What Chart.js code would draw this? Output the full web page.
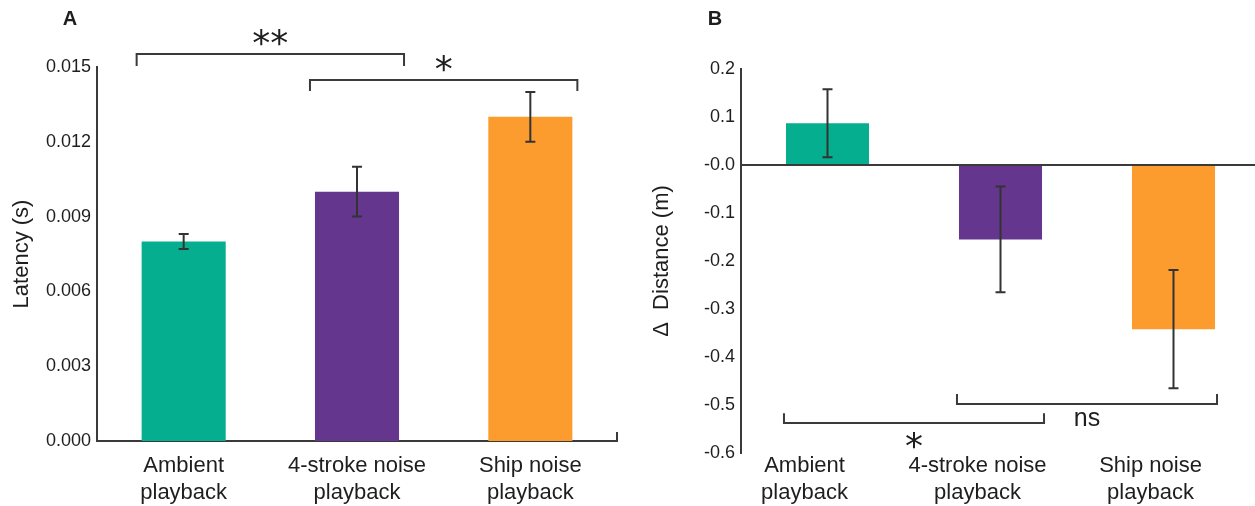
<!DOCTYPE html>
<html>
<head>
<meta charset="utf-8">
<script src="https://cdn.jsdelivr.net/npm/chart.js@4/dist/chart.umd.min.js"></script>
<style>
  body { margin: 0; background: #fff; width: 1255px; height: 506px; overflow: hidden; position: relative; }
  #panelA { position: absolute; left: 0; top: 0; width: 640px; height: 506px; }
  #panelB { position: absolute; left: 640px; top: 0; width: 615px; height: 506px; overflow: hidden; }
</style>
</head>
<body>
<div id="panelA"><canvas id="wykresA" width="640" height="506"></canvas></div>
<div id="panelB"><canvas id="wykresB" width="625" height="506"></canvas></div>
<script>
// --- Dane ---
const kategorie = [['Ambient', 'playback'], ['4-stroke noise', 'playback'], ['Ship noise', 'playback']];
const kolory = ['#04ae8e', '#65368d', '#fc9c2e'];

const latencja = [0.008, 0.010, 0.013];
const latencjaBlad = [0.0003, 0.001, 0.001];
const tickiA = [0, 0.003, 0.006, 0.009, 0.012, 0.015];
const etykietyA = ['0.000', '0.003', '0.006', '0.009', '0.012', '0.015'];

const dystans = [0.087, -0.155, -0.342];
const dystansBlad = [0.071, 0.11, 0.123];
const tickiB = [0.2, 0.1, 0, -0.1, -0.2, -0.3, -0.4, -0.5, -0.6];
const etykietyB = ['0.2', '0.1', '-0.0', '-0.1', '-0.2', '-0.3', '-0.4', '-0.5', '-0.6'];

// porownania: [od, do, poziom, poziom koncow, etykieta]
const porownaniaA = [[0, 1, 0.01552, 0.01504, '**'], [1, 2, 0.01448, 0.01404, '*']];
const porownaniaB = [[0, 1, -0.5375, -0.517, '*'], [1, 2, -0.498, -0.477, 'ns']];

const czcionka = 'Liberation Sans, Arial, Helvetica, sans-serif';
const kolorOsi = '#3a3a3a';
const kolorTekstu = '#1e1e1e';

// Rysowanie slupkow bledu
const slupkiBledu = {
  id: 'slupkiBledu',
  afterDatasetsDraw(chart, args, opts) {
    const { ctx, scales: { y } } = chart;
    const meta = chart.getDatasetMeta(0);
    ctx.save();
    ctx.strokeStyle = '#333';
    ctx.lineWidth = 2;
    meta.data.forEach((bar, i) => {
      const v = chart.data.datasets[0].data[i];
      const e = opts.bledy[i];
      const yG = y.getPixelForValue(v + e);
      const yD = y.getPixelForValue(v - e);
      ctx.beginPath();
      ctx.moveTo(bar.x, yG); ctx.lineTo(bar.x, yD);
      ctx.moveTo(bar.x - 5, yG); ctx.lineTo(bar.x + 5, yG);
      ctx.moveTo(bar.x - 5, yD); ctx.lineTo(bar.x + 5, yD);
      ctx.stroke();
    });
    ctx.restore();
  }
};

// Klamry istotnosci + litera panelu + maly znacznik osi
const adnotacje = {
  id: 'adnotacje',
  afterDraw(chart, args, opts) {
    const { ctx, scales: { y }, chartArea } = chart;
    const meta = chart.getDatasetMeta(0);
    ctx.save();
    ctx.strokeStyle = kolorOsi;
    ctx.lineWidth = 2;
    opts.porownania.forEach(([a, b, poziom, koniec, tekst]) => {
      const x1 = meta.data[a].x - meta.data[a].width / 2 - opts.zapas;
      const x2 = meta.data[b].x + meta.data[b].width / 2 + opts.zapas;
      const yP = y.getPixelForValue(poziom);
      const yK = y.getPixelForValue(koniec);
      ctx.beginPath();
      ctx.moveTo(x1, yK); ctx.lineTo(x1, yP); ctx.lineTo(x2, yP); ctx.lineTo(x2, yK);
      ctx.stroke();
      const gwiazdki = tekst.indexOf('*') >= 0;
      ctx.fillStyle = kolorTekstu;
      ctx.textAlign = 'center';
      if (gwiazdki) {
        // gwiazdki: DejaVu ma wieksza, szesciopromienna gwiazdke
        ctx.font = '36px DejaVu Sans, sans-serif';
        ctx.textBaseline = 'alphabetic';
        ctx.fillText(tekst, (x1 + x2) / 2, yP + opts.przesuniecieGw);
      } else {
        ctx.font = '25px ' + czcionka;
        ctx.textBaseline = 'middle';
        ctx.fillText(tekst, (x1 + x2) / 2, yP + opts.przesuniecieTekst);
      }
    });
    // litera panelu
    ctx.font = 'bold 20px ' + czcionka;
    ctx.fillStyle = kolorTekstu;
    ctx.textAlign = 'center';
    ctx.textBaseline = 'middle';
    ctx.fillText(opts.litera, opts.literaX, 19);
    // maly znacznik na koncu osi x
    if (opts.znacznikKonca) {
      ctx.beginPath();
      ctx.moveTo(chartArea.right, chartArea.bottom);
      ctx.lineTo(chartArea.right, chartArea.bottom - 9);
      ctx.stroke();
    }
    ctx.restore();
  }
};

function opcjeWspolne(tickiY, etykietyY, tytulY, szerY, wysX, paddingX, labelOffset) {
  return {
    responsive: false,
    animation: false,
    events: [],
    plugins: { legend: { display: false }, tooltip: { enabled: false } },
    scales: {
      x: {
        grid: { display: false, drawTicks: false },
        border: { display: true, color: kolorOsi, width: 2 },
        ticks: {
          color: kolorTekstu,
          padding: paddingX,
          labelOffset: labelOffset,
          maxRotation: 0,
          font: { family: czcionka, size: 22, lineHeight: 1.2 }
        },
        afterFit(s) { s.height = wysX; }
      },
      y: {
        min: Math.min(...tickiY),
        max: Math.max(...tickiY),
        grid: { display: false, drawTicks: false },
        border: { display: true, color: kolorOsi, width: 2 },
        afterBuildTicks(s) { s.ticks = tickiY.map(v => ({ value: v })); },
        ticks: {
          color: kolorTekstu,
          padding: 6,
          font: { family: czcionka, size: 18 },
          callback: (v) => etykietyY[tickiY.findIndex(t => Math.abs(t - v) < 1e-9)]
        },
        title: {
          display: true,
          text: tytulY,
          color: kolorTekstu,
          font: { family: czcionka, size: 22, lineHeight: 1.2 },
          padding: { top: 9, bottom: 0 }
        },
        afterFit(s) { s.width = szerY; }
      }
    }
  };
}

// --- Panel A ---
const opcjeA = opcjeWspolne(tickiA, etykietyA, 'Latency (s)', 97, 65, 12, 0);
opcjeA.layout = { padding: { top: 67, right: 23, bottom: 0, left: 0 } };
opcjeA.plugins.slupkiBledu = { bledy: latencjaBlad };
opcjeA.plugins.adnotacje = {
  porownania: porownaniaA, zapas: 5, przesuniecieGw: 1, przesuniecieTekst: -14,
  litera: 'A', literaX: 70, znacznikKonca: true
};

new Chart(document.getElementById('wykresA'), {
  type: 'bar',
  data: {
    labels: kategorie,
    datasets: [{
      data: latencja,
      backgroundColor: kolory,
      barPercentage: 0.485,
      categoryPercentage: 1
    }]
  },
  options: opcjeA,
  plugins: [slupkiBledu, adnotacje]
});

// --- Panel B ---
const opcjeB = opcjeWspolne(tickiB, etykietyB, 'Δ  Distance (m)', 101, 53, 0, -23);
opcjeB.layout = { padding: { top: 69, right: 5, bottom: 0, left: 0 } };
opcjeB.scales.x.border.display = false;
opcjeB.scales.y.grid = {
  display: true,
  drawTicks: false,
  lineWidth: 2,
  color: (c) => (c.tick && c.tick.value === 0) ? kolorOsi : 'rgba(0,0,0,0)'
};
opcjeB.plugins.slupkiBledu = { bledy: dystansBlad };
opcjeB.plugins.adnotacje = {
  porownania: porownaniaB, zapas: 2, przesuniecieGw: 35, przesuniecieTekst: 15,
  litera: 'B', literaX: 75, znacznikKonca: false
};

new Chart(document.getElementById('wykresB'), {
  type: 'bar',
  data: {
    labels: kategorie,
    datasets: [{
      data: dystans,
      backgroundColor: kolory,
      barPercentage: 0.48,
      categoryPercentage: 1
    }]
  },
  options: opcjeB,
  plugins: [slupkiBledu, adnotacje]
});
</script>
</body>
</html>
